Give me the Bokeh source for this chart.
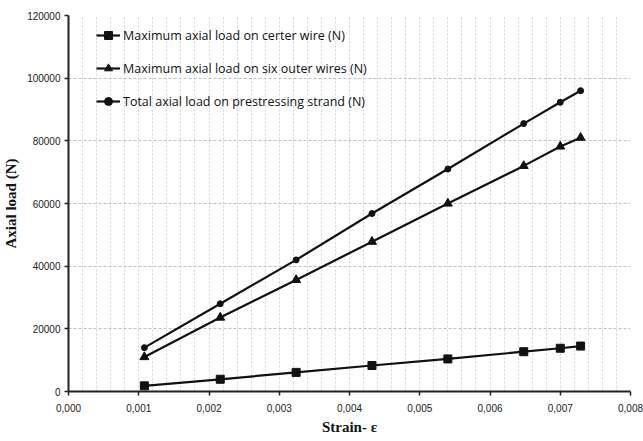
from bokeh.plotting import figure
from bokeh.models import FixedTicker, CustomJSTickFormatter, Legend, LegendItem, Range1d
from bokeh.embed import file_html
from bokeh.resources import INLINE

strain = [0.00108, 0.00216, 0.00324, 0.00432, 0.00540, 0.00648, 0.00700, 0.00729]
center_wire = [1800, 3900, 6100, 8300, 10400, 12700, 13800, 14500]
outer_wires = [11000, 23600, 35600, 47800, 60000, 72000, 78200, 81000]
total_load = [14000, 28000, 42000, 56800, 71000, 85500, 92300, 96000]

labels = [
    "Maximum axial load on certer wire (N)",
    "Maximum axial load on six outer wires (N)",
    "Total axial load on prestressing strand (N)",
]
x_ticks = [0, 0.001, 0.002, 0.003, 0.004, 0.005, 0.006, 0.007, 0.008]
y_ticks = [0, 20000, 40000, 60000, 80000, 100000, 120000]

p = figure(width=643, height=441, output_backend="svg", toolbar_location=None,
           x_range=Range1d(0, 0.008), y_range=Range1d(0, 120000),
           min_border_left=67, min_border_right=13, min_border_top=15, min_border_bottom=50)
p.outline_line_color = None
p.background_fill_color = "white"

line_col = "#111111"
r1l = p.line(strain, center_wire, line_color=line_col, line_width=2.2)
r1m = p.scatter(strain, center_wire, marker="square", size=8, fill_color=line_col, line_color=line_col)
r2l = p.line(strain, outer_wires, line_color=line_col, line_width=2.2)
r2m = p.scatter(strain, outer_wires, marker="triangle", size=9, fill_color=line_col, line_color=line_col)
r3l = p.line(strain, total_load, line_color=line_col, line_width=2.2)
r3m = p.scatter(strain, total_load, marker="circle", size=6, fill_color=line_col, line_color=line_col)

legend = Legend(items=[
    LegendItem(label=labels[0], renderers=[r1l, r1m]),
    LegendItem(label=labels[1], renderers=[r2l, r2m]),
    LegendItem(label=labels[2], renderers=[r3l, r3m]),
], location=(28, 280))
legend.border_line_alpha = 0
legend.background_fill_alpha = 0
legend.padding = 0
legend.margin = 0
legend.spacing = 13
legend.label_height = 20
legend.glyph_height = 20
legend.glyph_width = 24
legend.label_standoff = 3
legend.label_text_font = "Open Sans"
legend.label_text_font_size = "12.5px"
legend.label_text_color = "#111111"
p.add_layout(legend)

# axes
p.xaxis.ticker = FixedTicker(ticks=x_ticks)
p.yaxis.ticker = FixedTicker(ticks=y_ticks)
p.xaxis.formatter = CustomJSTickFormatter(code="return tick.toFixed(3).replace('.', ',');")
p.yaxis.formatter = CustomJSTickFormatter(code="return tick.toFixed(0);")
for ax in (p.xaxis, p.yaxis):
    ax.axis_line_color = "#222222"
    ax.axis_line_width = 2
    ax.major_tick_line_color = "#222222"
    ax.major_tick_line_width = 1.5
    ax.major_tick_out = 4
    ax.major_tick_in = 0
    ax.minor_tick_line_color = None
    ax.major_label_text_font = "Liberation Sans"
    ax.major_label_text_font_size = "10px"
    ax.major_label_text_color = "#222222"
    ax.axis_label_text_font = "Liberation Serif"
    ax.axis_label_text_font_style = "bold"
    ax.axis_label_text_font_size = "15px"
    ax.axis_label_text_color = "#111111"
p.xaxis.major_label_standoff = 8
p.yaxis.major_label_standoff = 4
p.xaxis.axis_label = "Strain- ε"
p.yaxis.axis_label = "Axial load (N)"
p.xaxis.axis_label_standoff = 4
p.yaxis.axis_label_standoff = 5

# grids
p.ygrid.ticker = FixedTicker(ticks=y_ticks)
p.ygrid.grid_line_color = "#c0c0c0"
p.ygrid.grid_line_dash = "3 2"
p.ygrid.grid_line_width = 1
p.xgrid.ticker = FixedTicker(ticks=[i * 0.0002 for i in range(1, 41)])
p.xgrid.grid_line_color = "#d4d4d4"
p.xgrid.grid_line_dash = "2 2"
p.xgrid.grid_line_width = 1

open("out.html", "w").write(file_html(p, INLINE))
